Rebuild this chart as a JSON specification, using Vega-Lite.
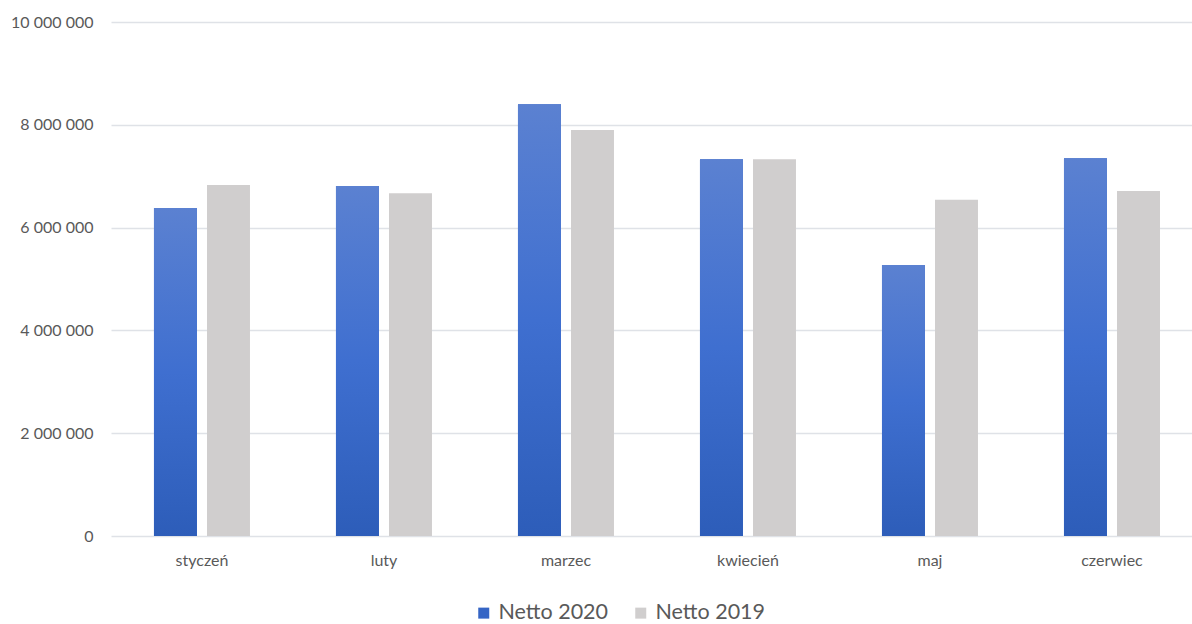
{
  "$schema": "https://vega.github.io/schema/vega-lite/v6.json",
  "width": 1081,
  "height": 514,
  "autosize": {"type": "none"},
  "padding": {"left": 111, "top": 22, "right": 0, "bottom": 88},
  "background": "#ffffff",
  "config": {
    "view": {"stroke": null},
    "font": "Lato"
  },
  "data": {
    "values": [
      {"month": "styczeń", "series": "Netto 2020", "value": 6380000},
      {"month": "styczeń", "series": "Netto 2019", "value": 6830000},
      {"month": "luty", "series": "Netto 2020", "value": 6810000},
      {"month": "luty", "series": "Netto 2019", "value": 6670000},
      {"month": "marzec", "series": "Netto 2020", "value": 8400000},
      {"month": "marzec", "series": "Netto 2019", "value": 7900000},
      {"month": "kwiecień", "series": "Netto 2020", "value": 7330000},
      {"month": "kwiecień", "series": "Netto 2019", "value": 7330000},
      {"month": "maj", "series": "Netto 2020", "value": 5270000},
      {"month": "maj", "series": "Netto 2019", "value": 6540000},
      {"month": "czerwiec", "series": "Netto 2020", "value": 7350000},
      {"month": "czerwiec", "series": "Netto 2019", "value": 6710000}
    ]
  },
  "encoding": {
    "x": {
      "field": "month",
      "type": "nominal",
      "sort": ["styczeń", "luty", "marzec", "kwiecień", "maj", "czerwiec"],
      "scale": {"paddingInner": 0.4725, "paddingOuter": 0.206, "align": 0.573},
      "axis": {
        "title": null,
        "labelAngle": 0,
        "domain": false,
        "ticks": false,
        "labelFontSize": 16,
        "labelColor": "#595959",
        "labelPadding": 16
      }
    },
    "xOffset": {
      "field": "series",
      "type": "nominal",
      "scale": {"domain": ["Netto 2020", "Netto 2019"], "paddingInner": 0.19, "paddingOuter": 0}
    },
    "y": {
      "field": "value",
      "type": "quantitative",
      "scale": {"domain": [0, 10000000], "nice": false},
      "axis": {
        "title": null,
        "values": [0, 2000000, 4000000, 6000000, 8000000, 10000000],
        "labelExpr": "replace(format(datum.value, ','), /,/g, ' ')",
        "domain": false,
        "ticks": false,
        "labelFontSize": 16,
        "labelColor": "#595959",
        "labelPadding": 18,
        "gridColor": "#dfe2e7",
        "gridWidth": 1.5
      }
    }
  },
  "layer": [
    {
      "mark": {"type": "bar"},
      "encoding": {
        "color": {
          "field": "series",
          "type": "nominal",
          "scale": {"domain": ["Netto 2020", "Netto 2019"], "range": ["#3565c5", "#d0cece"]},
          "legend": {
            "title": null,
            "orient": "none",
            "direction": "horizontal",
            "legendX": 362,
            "legendY": 580,
            "symbolType": "square",
            "symbolSize": 121,
            "symbolStrokeWidth": 0,
            "labelFontSize": 21.5,
            "labelColor": "#595959",
            "labelOffset": 4,
            "columnPadding": 21
          }
        }
      }
    },
    {
      "transform": [{"filter": "datum.series === 'Netto 2020'"}],
      "mark": {
        "type": "bar",
        "fill": {
          "gradient": "linear",
          "x1": 0, "y1": 0, "x2": 0, "y2": 1,
          "stops": [
            {"offset": 0, "color": "#5b81d1"},
            {"offset": 0.5, "color": "#3f6fd0"},
            {"offset": 1, "color": "#2d5db9"}
          ]
        }
      }
    }
  ]
}
